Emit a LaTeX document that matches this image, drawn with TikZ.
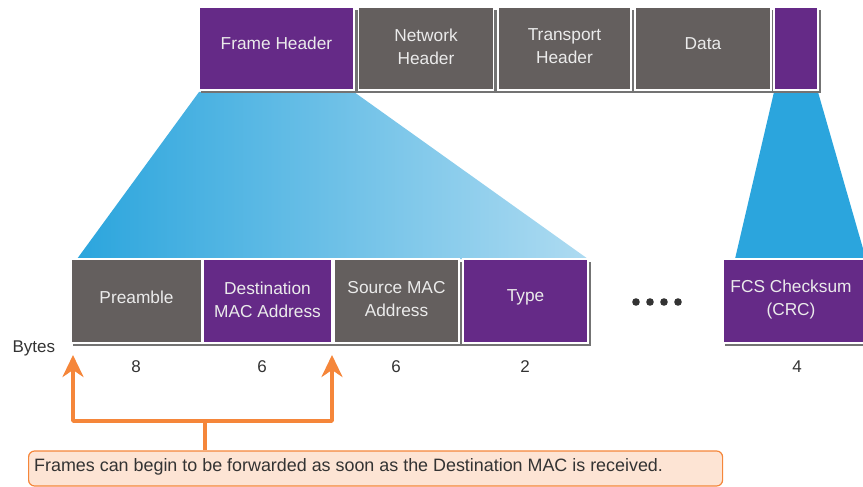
\documentclass[tikz,border=0pt]{standalone}
\usepackage{fontspec}
\setmainfont{Liberation Sans}
\usetikzlibrary{arrows.meta,positioning}
\definecolor{fpurple}{HTML}{652A87}
\definecolor{fgray}{HTML}{645F5E}
\definecolor{fblue}{HTML}{2BA5DD}
\definecolor{flblue}{HTML}{AEDBF1}
\definecolor{forange}{HTML}{F5863A}
\definecolor{fpeach}{HTML}{FDE4D4}
\definecolor{ftext}{HTML}{333333}
\tikzset{
  fbox/.style={draw=white, line width=1.2pt, inner sep=0pt},
  pbox/.style={fbox, fill=fpurple},
  gbox/.style={fbox, fill=fgray},
  btext/.style={text=white!92!black, font=\fontsize{17.3}{23}\selectfont, align=center, inner sep=0pt},
  shadowfill/.style={fill=black!55},
  num/.style={text=ftext, font=\fontsize{17}{19}\selectfont},
  orarrow/.style={draw=forange, line width=3.8pt, line cap=round, line join=round},
}
\begin{document}
\begin{tikzpicture}[x=1pt,y=-1pt]
\useasboundingbox (0,0) rectangle (863,487);
\clip (0,0) rectangle (863,487);
% blue projections
\path[left color=fblue, right color=flblue] (199,92) -- (354,92) -- (588,259) -- (77,259) -- cycle;
\fill[fblue] (774,92) -- (818,92) -- (866,259) -- (735,259) -- cycle;
% shadows
\fill[shadowfill] (201,10) rectangle (821,93);
\fill[shadowfill] (73,262) rectangle (591,346);
\fill[shadowfill] (725,262) rectangle (866,346);
% top row
\node[pbox, minimum width=155, minimum height=83] (fh) at (276.5,48.5) {};
\node[gbox, minimum width=135, minimum height=83] (nh) at (426,48.5) {};
\node[gbox, minimum width=133, minimum height=83] (th) at (564.5,48.5) {};
\node[gbox, minimum width=136, minimum height=83] (dt) at (703,48.5) {};
\node[pbox, minimum width=44, minimum height=83] (tr) at (796,48.5) {};
\node[btext] (fht) at ([yshift=5pt]fh.center) {Frame Header};
\node[btext] (nht) at ([yshift=2pt]nh.center) {Network\\Header};
\node[btext] (tht) at ([yshift=2pt]th.center) {Transport\\Header};
\node[btext] (dtt) at ([yshift=5pt]dt.center) {Data};
% bottom row
\node[gbox, minimum width=131, minimum height=84] (pre) at (136.5,301) {};
\node[pbox, minimum width=129, minimum height=84] (dst) at (267.5,301) {};
\node[gbox, minimum width=125, minimum height=84] (src) at (396.5,301) {};
\node[pbox, minimum width=125, minimum height=84] (typ) at (525.5,301) {};
\node[pbox, minimum width=148, minimum height=84] (fcs) at (797,301) {};
\node[btext] (pret) at ([yshift=3.5pt]pre.center) {Preamble};
\node[btext] (dstt) at ([yshift=1.5pt]dst.center) {Destination\\MAC Address};
\node[btext] (srct) at ([yshift=1.5pt]src.center) {Source MAC\\Address};
\node[btext] (typt) at ([yshift=3.5pt]typ.center) {Type};
\node[btext] (fcst) at ([yshift=1.5pt,xshift=-6pt]fcs.center) {FCS Checksum\\(CRC)};
% dots
\foreach \i/\xx in {1/636,2/650,3/664,4/678}
  \fill[ftext] (\xx,302) circle (3.8);
% byte labels
\node[num, anchor=west] (bytes) at (9,348) {Bytes};
\node[num] (n1) at (136,367) {8};
\node[num] (n2) at (262,367) {6};
\node[num] (n3) at (396,367) {6};
\node[num] (n4) at (525,367) {2};
\node[num] (n5) at (797,367) {4};
% callout
\node[draw=forange, line width=1.2pt, fill=fpeach, rounded corners=6pt,
      minimum width=694, minimum height=35, anchor=west, inner sep=0pt] (note) at (28,468.5) {};
\node[text=ftext, font=\fontsize{17.9}{20}\selectfont, anchor=west, inner sep=0pt]
  (notetext) at (34,466.5) {Frames can begin to be forwarded as soon as the Destination MAC is received.};
% orange arrows
\coordinate (tipA) at (73,355);
\coordinate (tipB) at (332,355);
\coordinate (stem) at (205,421);
\draw[orarrow, -{Stealth[length=22pt,width=21pt,inset=7pt]}] (stem) -- (73,421) -- (tipA);
\draw[orarrow, -{Stealth[length=22pt,width=21pt,inset=7pt]}] (stem) -- (332,421) -- (tipB);
\draw[orarrow, line cap=butt] (note.north -| stem) -- (stem);
\end{tikzpicture}
\end{document}
